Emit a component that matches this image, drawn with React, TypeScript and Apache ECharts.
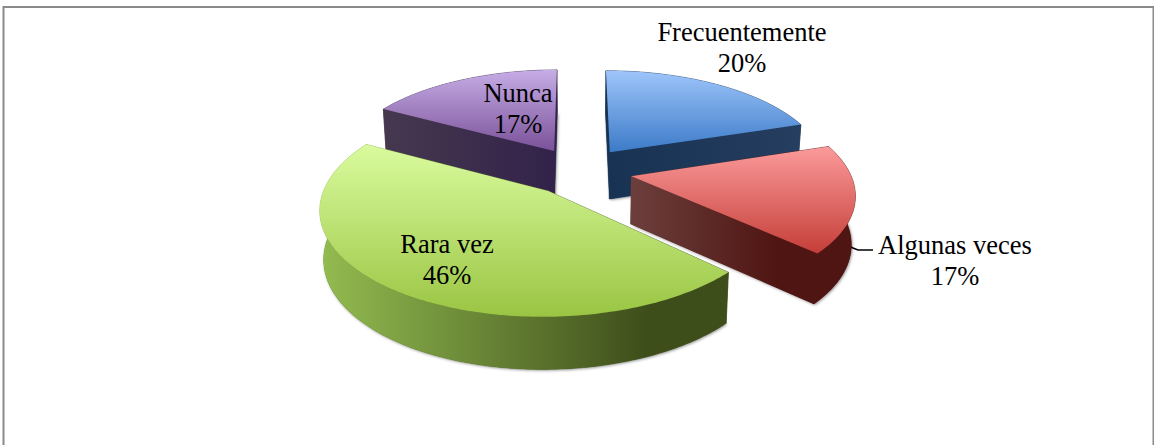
import React, { useEffect, useRef } from "react";
import * as echarts from "echarts";

const categories = ["Frecuentemente", "Algunas veces", "Rara vez", "Nunca"];
const percentages = [20, 17, 46, 17];

const topColors = [
  ["#9EC5FA", "#3C7BC8"],
  ["#FB9A9A", "#C53E38"],
  ["#DAFB9E", "#9AC543"],
  ["#C6ADE6", "#7A5199"],
];
const wallColors = [
  ["#173252", "#263E60"],
  ["#6C3F3C", "#4F1512"],
  ["#93BC50", "#3E4E1B"],
  ["#46384F", "#32224A"],
];
const wallDarkAt = [1, 0.65, 0.8, 1];
const labelBoxes = [
  { x: 742, y: 47 },
  { x: 955, y: 260 },
  { x: 447, y: 259 },
  { x: 518, y: 108 },
];
const paintOrder = [10, 20, 30, 5];

const CX = 580, CY = 171, A = 218, B = 99.5, K = 0.155, EXPLODE = 0.24, WALL = 47.5, BASE_SCALE = 0.985;

type Pt = [number, number];
function project(deg: number, r: number, bis: number, bottom: boolean): Pt {
  const t = (deg * Math.PI) / 180;
  const b = (bis * Math.PI) / 180;
  const X = r * Math.sin(t) + EXPLODE * Math.sin(b);
  const Y = -r * Math.cos(t) - EXPLODE * Math.cos(b);
  const w = 1 - K * Y;
  const dx = (A * X) / w;
  const dy = (B * Y) / w;
  if (!bottom) return [CX + dx, CY + dy];
  return [CX + dx * BASE_SCALE, CY + dy + WALL / Math.sqrt(w)];
}

function renderSlice(params: any, api: any) {
  const i = params.dataIndex;
  const total = percentages.reduce((a, b) => a + b, 0);
  const before = percentages.slice(0, i).reduce((a, b) => a + b, 0);
  const start = (before / total) * 360;
  const end = ((before + api.value(0)) / total) * 360;
  const bis = (start + end) / 2;

  const arcTop: Pt[] = [];
  const arcBottom: Pt[] = [];
  for (let d = start; d <= end + 0.001; d += 1) {
    arcTop.push(project(d, 1, bis, false));
    arcBottom.push(project(d, 1, bis, true));
  }
  const apexTop = project(0, 0, bis, false);
  const apexBottom = project(0, 0, bis, true);
  const xs = [...arcTop, apexTop].map((p) => p[0]);
  const wallFill = new echarts.graphic.LinearGradient(
    Math.min(...xs), 0, Math.max(...xs), 0,
    [
      { offset: 0, color: wallColors[i][0] },
      { offset: wallDarkAt[i], color: wallColors[i][1] },
      { offset: 1, color: wallColors[i][1] },
    ],
    true
  );
  const topFill = new echarts.graphic.LinearGradient(0, 0, 0, 1, [
    { offset: 0, color: topColors[i][0] },
    { offset: 1, color: topColors[i][1] },
  ]);
  const z = paintOrder[i];
  const wall = (points: Pt[]) => ({
    type: "polygon",
    z2: z + 1,
    shape: { points },
    style: { fill: wallFill, stroke: wallFill, lineWidth: 0.5 },
  });
  const last = arcTop.length - 1;
  const children: any[] = [
    {
      type: "polygon",
      z2: z,
      shape: { points: [apexBottom, ...arcBottom] },
      style: {
        fill: wallColors[i][1],
        shadowColor: "rgba(0,0,0,0.45)",
        shadowBlur: 3,
        shadowOffsetX: 1,
        shadowOffsetY: 1,
      },
    },
    wall([...arcTop, ...[...arcBottom].reverse()]),
    wall([apexTop, arcTop[0], arcBottom[0], apexBottom]),
    wall([apexTop, arcTop[last], arcBottom[last], apexBottom]),
    {
      type: "polygon",
      z2: z + 2,
      shape: { points: [apexTop, ...arcTop] },
      style: { fill: topFill },
    },
    {
      type: "text",
      z2: 100,
      style: {
        text: `${categories[i]}\n${api.value(0)}%`,
        x: labelBoxes[i].x,
        y: labelBoxes[i].y,
        fill: "#000",
        font: '26.5px "Liberation Serif"',
        lineHeight: 31,
        align: "center",
        verticalAlign: "middle",
      },
    },
  ];
  if (i === 1) {
    children.push({
      type: "polyline",
      z2: 4,
      shape: { points: [[849, 246], [853, 248], [858, 250], [873, 250]] },
      style: { fill: "none", stroke: "#000", lineWidth: 1.4 },
    });
  }
  return { type: "group", children };
}

export default function App() {
  const ref = useRef<HTMLDivElement>(null);
  useEffect(() => {
    document.body.style.margin = "0";
    const chart = echarts.init(ref.current!, null, { renderer: "svg" });
    chart.setOption({
      animation: false,
      backgroundColor: "#fff",
      graphic: [
        {
          type: "rect",
          silent: true,
          shape: { x: 3.5, y: 7, width: 1150, height: 500 },
          style: { fill: "none", stroke: "#8A8A8A", lineWidth: 2 },
        },
      ],
      series: [
        {
          type: "custom",
          coordinateSystem: "none",
          renderItem: renderSlice,
          data: percentages.map((v, i) => ({ name: categories[i], value: [v] })),
          encode: { value: 0 },
        },
      ],
    });
    return () => chart.dispose();
  }, []);
  return <div ref={ref} style={{ width: 1154, height: 445, overflow: "hidden" }} />;
}
